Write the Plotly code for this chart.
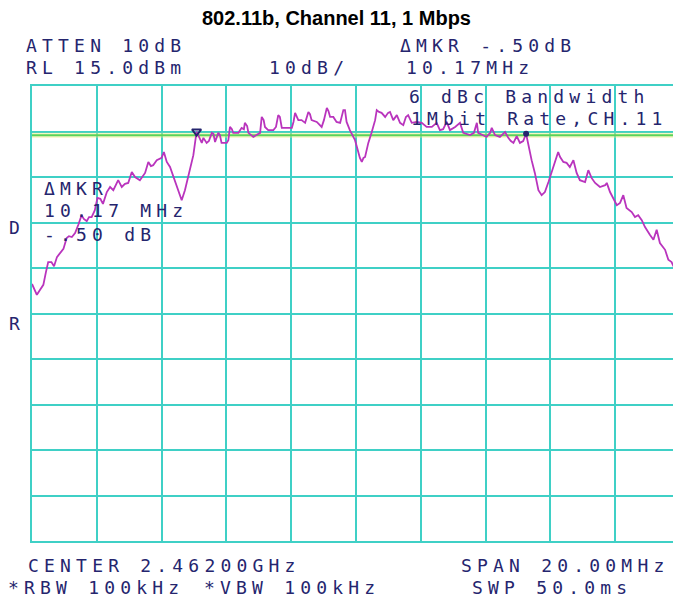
import plotly.graph_objects as go

# Spectrum analyser settings
center_mhz = 2462.0
span_mhz = 20.0
ref_level_dbm = 15.0
db_per_div = 10.0
display_line_dbm = 4.2          # 6 dBc below the peak
delta_mkr_mhz = 10.17
delta_mkr_db = -0.50

# Measured trace (frequency in MHz, level in dBm)
freq_mhz = [
    2452.00, 2452.08, 2452.15, 2452.25, 2452.35, 2452.43, 2452.50, 2452.60, 2452.68, 2452.77,
    2452.86, 2452.97, 2453.07, 2453.14, 2453.23, 2453.33, 2453.43, 2453.53, 2453.60, 2453.69,
    2453.76, 2453.84, 2453.94, 2454.02, 2454.11, 2454.19, 2454.31, 2454.41, 2454.51, 2454.61,
    2454.66, 2454.77, 2454.87, 2454.97, 2455.08, 2455.18, 2455.33, 2455.49, 2455.59, 2455.67,
    2455.74, 2455.85, 2456.00, 2456.07, 2456.16, 2456.26, 2456.41, 2456.52, 2456.62, 2456.72,
    2456.82, 2456.93, 2456.98, 2457.08, 2457.15, 2457.24, 2457.29, 2457.39, 2457.46, 2457.55,
    2457.60, 2457.65, 2457.75, 2457.80, 2457.85, 2458.01, 2458.06, 2458.11, 2458.17, 2458.21,
    2458.37, 2458.47, 2458.54, 2458.57, 2458.64, 2458.68, 2458.83, 2458.98, 2459.04, 2459.09,
    2459.15, 2459.19, 2459.29, 2459.45, 2459.53, 2459.60, 2459.65, 2459.71, 2459.86, 2460.02,
    2460.07, 2460.12, 2460.22, 2460.32, 2460.43, 2460.49, 2460.53, 2460.58, 2460.63, 2460.79,
    2460.94, 2461.01, 2461.10, 2461.15, 2461.20, 2461.30, 2461.40, 2461.51, 2461.57, 2461.61,
    2461.66, 2461.71, 2461.81, 2461.97, 2462.07, 2462.12, 2462.18, 2462.23, 2462.28, 2462.38,
    2462.48, 2462.59, 2462.64, 2462.71, 2462.79, 2462.90, 2462.99, 2463.05, 2463.15, 2463.26,
    2463.36, 2463.46, 2463.54, 2463.61, 2463.72, 2463.87, 2464.03, 2464.18, 2464.34, 2464.49,
    2464.59, 2464.69, 2464.80, 2464.90, 2465.06, 2465.21, 2465.31, 2465.52, 2465.64, 2465.73,
    2465.77, 2465.93, 2466.03, 2466.14, 2466.19, 2466.29, 2466.44, 2466.54, 2466.60, 2466.70,
    2466.78, 2466.86, 2466.96, 2467.06, 2467.16, 2467.25, 2467.32, 2467.42, 2467.52, 2467.63,
    2467.73, 2467.83, 2467.94, 2468.04, 2468.14, 2468.24, 2468.30, 2468.40, 2468.50, 2468.60,
    2468.71, 2468.81, 2468.91, 2469.07, 2469.17, 2469.27, 2469.38, 2469.53, 2469.69, 2469.74,
    2469.84, 2469.94, 2470.05, 2470.15, 2470.25, 2470.35, 2470.51, 2470.61, 2470.71, 2470.82,
    2470.92, 2471.07, 2471.18, 2471.28, 2471.38, 2471.54, 2471.64, 2471.74, 2471.80, 2472.00,
]
level_dbm = [
    -28.5, -29.6, -30.9, -29.8, -28.7, -25.9, -23.7, -23.7, -24.6, -22.6,
    -21.9, -20.8, -18.4, -18.0, -18.2, -17.3, -15.5, -13.4, -14.2, -14.7,
    -13.8, -13.8, -12.3, -9.6, -9.8, -10.9, -8.3, -7.2, -7.9, -6.5,
    -5.7, -7.2, -6.5, -6.3, -3.9, -5.0, -5.7, -4.1, -1.7, -2.6,
    -2.4, -1.3, -0.8, 0.5, -1.7, -2.8, -5.7, -7.9, -10.1, -7.9,
    -5.0, -1.9, -0.2, 5.0, 3.8, 2.5, 3.6, 2.5, 2.9, 4.7,
    4.5, 2.7, 4.7, 4.2, 2.5, 2.5, 3.1, 6.0, 5.5, 4.7,
    4.7, 5.8, 5.5, 6.9, 6.2, 4.7, 3.8, 4.5, 4.7, 8.2,
    7.5, 6.0, 5.3, 5.3, 6.0, 8.6, 8.2, 5.8, 5.8, 5.8,
    7.1, 9.1, 7.5, 7.5, 6.9, 8.2, 9.3, 8.8, 7.5, 7.1,
    6.0, 7.5, 10.2, 9.5, 8.2, 8.2, 7.1, 6.9, 9.1, 9.7,
    9.7, 7.1, 5.3, 3.1, 0.5, -0.8, -1.7, -0.8, -0.6, 2.5,
    4.7, 7.5, 9.7, 9.3, 9.1, 8.2, 9.1, 9.3, 7.5, 8.6,
    6.9, 6.4, 8.2, 8.6, 6.9, 7.1, 6.9, 6.0, 6.0, 6.9,
    5.3, 5.5, 7.1, 5.3, 6.0, 6.9, 4.7, 4.2, 4.7, 6.9,
    4.7, 4.2, 3.8, 4.7, 5.8, 4.2, 3.8, 4.5, 4.9, 3.6,
    2.9, 2.5, 4.0, 2.5, 2.9, 4.5, 1.8, -1.3, -4.1, -7.9,
    -9.0, -8.3, -6.1, -3.9, -1.7, 0.5, -0.6, -1.7, -1.9, -2.8,
    -1.3, -4.1, -5.7, -6.1, -3.5, -5.2, -6.3, -7.2, -6.8, -6.3,
    -8.3, -9.6, -11.2, -10.7, -9.0, -11.8, -12.7, -13.8, -13.4, -14.5,
    -16.0, -17.7, -18.8, -16.6, -19.5, -21.0, -23.2, -23.7, -24.6, -25.2,
]

# Delta marker pair: marker 2 sits on the trace, marker 1 is the reference
mkr2_freq = 2467.25
mkr2_level = 4.5
mkr1_freq = mkr2_freq - delta_mkr_mhz
mkr1_level = mkr2_level - delta_mkr_db

# Annotation texts of the analyser screen
header_texts = ["ATTEN 10dB", "RL 15.0dBm", "10dB/", "ΔMKR -.50dB", "10.17MHz"]
screen_texts = ["6 dBc Bandwidth", "1Mbit Rate,CH.11", "ΔMKR", "10.17 MHz", "-.50 dB"]
side_texts = ["D", "R"]
footer_texts = ["CENTER 2.46200GHz", "SPAN 20.00MHz", "*RBW 100kHz", "*VBW 100kHz", "SWP 50.0ms"]
title_text = "802.11b, Channel 11, 1 Mbps"

# ---- page geometry (pixels) ----
W, H = 673, 598
ML, MR, MT, MB = 32, 0, 86, 57
plot_w = W - ML - MR
plot_h = H - MT - MB
graticule_w = 648          # ten 2 MHz divisions; the last one runs past the page edge

x_lo = center_mhz - span_mhz / 2
x_hi = x_lo + span_mhz * plot_w / graticule_w
y_hi = ref_level_dbm
y_lo = ref_level_dbm - 10 * db_per_div

GRID = "#3fd0c6"
INK = "#25256e"
TRACE = "#b934bd"


def px(x):
    return (x - ML) / plot_w


def py(y):
    return (H - MB - y) / plot_h


fig = go.Figure()

# display line (glow + line)
fig.add_trace(go.Scatter(
    x=[x_lo, x_hi], y=[display_line_dbm, display_line_dbm], mode="lines",
    line=dict(color="rgba(235,235,120,0.45)", width=5), hoverinfo="skip", showlegend=False))
fig.add_trace(go.Scatter(
    x=[x_lo, x_hi], y=[display_line_dbm, display_line_dbm], mode="lines",
    line=dict(color="#5ad35a", width=2), hoverinfo="skip", showlegend=False))

# spectrum trace
fig.add_trace(go.Scatter(
    x=freq_mhz, y=level_dbm, mode="lines",
    line=dict(color=TRACE, width=1.8), hoverinfo="skip", showlegend=False))

# markers
fig.add_trace(go.Scatter(
    x=[mkr1_freq], y=[mkr1_level], mode="markers",
    marker=dict(symbol="triangle-down-open", size=8, color=INK, line=dict(width=2, color=INK)),
    hoverinfo="skip", showlegend=False))
fig.add_trace(go.Scatter(
    x=[mkr2_freq], y=[mkr2_level], mode="markers",
    marker=dict(symbol="circle", size=6, color=INK),
    hoverinfo="skip", showlegend=False))


def screen_label(text, left, mid):
    return dict(
        text='<span style="letter-spacing:5.2px">' + text + "</span>",
        xref="paper", yref="paper", x=px(left), y=py(mid),
        xanchor="left", yanchor="middle", align="left", showarrow=False,
        borderpad=0,
        font=dict(family="DejaVu Sans Mono", size=18, color=INK),
    )


annotations = []
for text, left, mid in zip(header_texts, [25, 25, 268, 399, 405], [45, 68, 68, 45, 68]):
    annotations.append(screen_label(text, left, mid))
for text, left, mid in zip(screen_texts, [408, 410, 43, 43, 43], [96.5, 118.5, 188, 210, 235]):
    annotations.append(screen_label(text, left, mid))
for text, left, mid in zip(side_texts, [8, 8], [227, 323]):
    annotations.append(screen_label(text, left, mid))
for text, left, mid in zip(footer_texts, [27, 460, 7, 203, 471], [565, 565, 587, 587, 587]):
    annotations.append(screen_label(text, left, mid))

fig.update_layout(
    width=W, height=H,
    margin=dict(l=ML, r=MR, t=MT, b=MB, pad=0),
    paper_bgcolor="white", plot_bgcolor="white",
    title=dict(text="<b>" + title_text + "</b>", x=0.5, xref="container", xanchor="center",
               y=1 - 18 / H, yref="container", yanchor="middle",
               font=dict(family="Liberation Sans, Arial", size=20, color="black")),
    annotations=annotations,
    showlegend=False,
)
fig.update_xaxes(
    range=[x_lo, x_hi], tick0=x_lo, dtick=span_mhz / 10, showticklabels=False, ticks="",
    showgrid=True, gridcolor=GRID, gridwidth=2, zeroline=False,
    showline=True, linecolor=GRID, linewidth=2, mirror=True,
)
fig.update_yaxes(
    range=[y_lo, y_hi], tick0=y_lo, dtick=db_per_div, showticklabels=False, ticks="",
    showgrid=True, gridcolor=GRID, gridwidth=2, zeroline=False,
    showline=True, linecolor=GRID, linewidth=2, mirror=False,
)

fig.write_html("out.html", config={"displayModeBar": False})
